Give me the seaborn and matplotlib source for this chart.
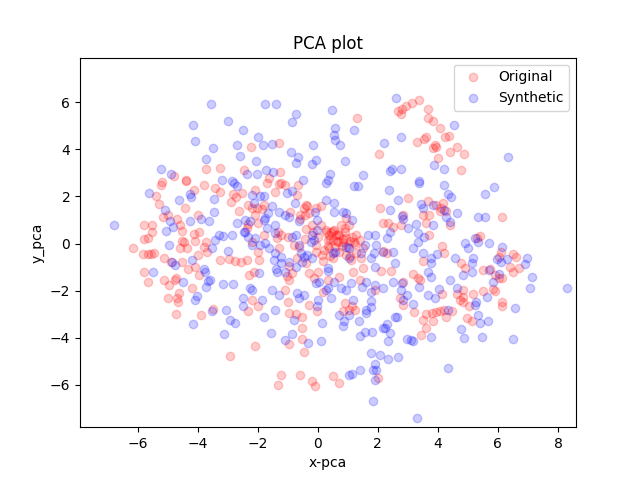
"""
PCA scatter of original vs synthetic samples.
"""

import matplotlib

matplotlib.use("Agg")
import matplotlib.pyplot as plt
import pandas as pd
import seaborn as sns

# (x_pca, y_pca)
original_xy = [
    (-3.74, 3.17), (-3.26, 3.20), (-4.80, 2.86), (-4.40, 2.69), (-5.20, 2.60), (-2.47, 3.11),
    (-2.24, 4.12), (-1.30, 4.26), (-1.25, 3.03), (-1.64, 2.77), (1.30, 5.32), (2.05, 3.81),
    (2.68, 5.64), (2.79, 5.73), (2.76, 5.52), (2.94, 5.84), (3.13, 5.97), (-1.24, 2.59),
    (3.38, 6.09), (3.66, 5.73), (3.68, 5.33), (3.85, 5.19), (4.07, 4.93), (4.24, 4.51),
    (4.36, 4.55), (3.59, 4.51), (3.53, 4.44), (3.29, 4.31), (3.89, 4.17), (3.83, 4.05),
    (3.94, 4.12), (4.64, 4.11), (4.41, 3.90), (4.86, 3.81), (4.02, 3.65), (4.76, 3.11),
    # left middle
    (-5.23, 2.50), (-4.38, 2.64), (-4.13, 2.29), (-3.78, 2.47), (-3.42, 2.36), (-3.25, 2.19),
    (-2.83, 2.10), (-2.90, 1.76), (-2.73, 1.98), (-5.38, 2.01), (-5.28, 1.68), (-4.41, 1.51),
    (-5.17, 1.15), (-5.00, 1.22), (-3.99, 1.22), (-2.62, 1.39), (-5.80, 0.80), (-5.53, 0.77),
    (-5.51, 0.51), (-5.65, 0.23), (-5.80, 0.20), (-6.15, -0.17), (-5.82, -0.44), (-5.67, -0.44),
    (-5.56, -0.43), (-5.45, -0.40), (-5.13, -0.63), (-4.89, -0.77), (-4.69, 1.06), (-4.53, 0.54),
    (-4.58, 0.80), (-4.13, 0.41), (-3.97, 0.51), (-4.10, 0.09), (-4.53, 0.09), (-4.44, 0.06),
    (-4.58, -0.20), (-4.36, -0.20), (-3.74, 0.06), (-3.80, -0.13), (-4.00, -0.49), (-3.69, -0.34),
    (-3.27, -0.70), (-2.96, -0.67), (-2.76, -0.74), (-2.55, -0.77), (-4.53, -0.77), (-4.33, -1.08),
    (-4.10, -0.98), (-3.97, -1.34), (-5.79, -1.22), (-5.64, -1.62), (-5.12, -1.55), (-4.97, -1.76),
    (-4.75, -1.55), (-4.71, -1.48), (-4.19, -1.90), (-4.62, -2.08), (-5.00, -2.33), (-4.69, -2.33),
    (-4.66, -2.50), (-2.53, 2.15),
    # centre
    (-2.08, 2.29), (-1.68, 2.59), (-1.29, 2.53), (-1.10, 2.50), (-0.65, 2.47), (-1.41, 2.19),
    (-2.33, 1.62), (-2.20, 1.53), (-2.03, 1.51), (-1.86, 1.48), (-1.80, 1.65), (-2.08, 1.22),
    (-2.31, 0.82), (-1.99, 0.87), (-2.35, 0.65), (-1.79, 0.37), (-2.20, 0.08), (-1.99, -0.34),
    (-1.97, -0.70), (-2.36, -0.70), (-2.14, -1.20), (-2.29, -1.34), (-1.32, 0.51), (-1.21, 0.37),
    (-1.36, 0.23), (-1.30, -0.20), (-0.99, 0.30), (-0.80, -0.06), (-0.63, -0.13), (-0.68, -0.63),
    (-0.96, -0.94), (-0.85, -1.27), (-1.02, -1.37), (-0.96, -1.55), (-1.08, -1.98), (-0.99, -2.47),
    (-0.46, 1.51), (-0.35, 1.58), (-0.29, 1.29), (-0.07, 1.51), (0.10, 1.58), (-0.60, 1.22),
    (-0.43, 1.22), (-0.18, 0.80), (0.10, 0.80), (0.02, 0.30), (-0.07, -0.06), (0.27, 0.58),
    (0.44, 0.51), (0.55, 0.58), (0.38, 0.37), (0.61, 0.37), (0.72, 0.37), (0.33, 0.16),
    (0.49, 0.16), (0.66, 0.08), (0.83, 0.08), (0.94, 0.23), (1.14, 0.30), (1.28, 0.37),
    (1.39, 0.16), (1.22, 0.08), (0.77, 0.80), (0.94, 1.08), (0.89, 0.65), (1.05, 0.80),
    (0.21, -0.27), (0.38, -0.20), (0.13, -0.49), (0.18, -0.74), (0.49, -0.60), (0.72, -0.34),
    (0.94, -0.49), (1.11, -0.70), (1.28, -0.41), (1.45, -0.63), (1.50, -0.20), (-0.40, -0.84),
    (-0.29, -1.27), (-0.12, -1.48), (0.01, -1.20), (0.33, -1.55), (0.72, -1.41), (1.17, -1.20),
    (1.39, -1.55), (1.50, -1.05), (1.89, -1.98), (0.92, -2.54), (0.16, -2.05), (2.06, 1.51),
    (2.17, 0.87), (2.34, 0.87), (2.51, 0.72), (2.76, 0.80), (2.85, 1.22), (2.12, -1.17),
    (2.45, -1.17), (3.01, 1.93), (2.85, -1.62), (2.17, -0.31), (2.29, -0.41), (2.73, -2.33),
    (-2.20, -2.40), (-0.68, 2.08), (-0.40, 1.65),
    # dense red core near the origin
    (0.29, 0.48), (0.52, 0.55), (0.68, 0.41), (0.91, 0.48), (0.40, 0.20), (0.63, 0.13),
    (0.85, 0.20), (1.08, 0.13), (0.35, -0.09), (0.57, -0.16), (0.80, -0.09), (1.02, -0.16),
    (1.24, -0.01), (-0.94, 1.33), (-0.60, 1.05), (-0.38, 0.62), (-0.16, 0.48), (-0.44, 0.20),
    (-0.05, -0.37), (0.40, -0.51), (1.08, -0.51),
    # right middle
    (3.66, 1.79), (3.94, 1.62), (4.11, 1.53), (4.17, 1.72), (4.06, 1.39), (4.28, 1.39),
    (3.50, 1.22), (3.70, 1.22), (3.61, 0.87), (4.39, 0.77), (3.72, 0.37), (6.13, 1.15),
    (5.40, 0.34), (5.29, 0.23), (4.15, -0.09), (4.19, -0.41), (3.50, -0.74), (4.78, -0.84),
    (4.90, -1.03), (5.51, -1.13), (5.74, -1.08), (6.10, -0.34), (6.02, -0.56), (6.50, -0.46),
    (6.61, -0.56), (6.41, -0.98), (6.50, -1.20), (6.69, -1.03), (5.91, -1.34), (6.02, -1.48),
    (6.13, -1.48), (5.85, -1.91), (5.91, -2.02), (5.51, -2.02), (5.18, -2.16), (4.82, -1.98),
    (4.84, -2.26), (4.62, -2.16), (4.73, -2.40), (4.82, -2.47), (4.15, -2.16), (3.16, -1.31),
    (3.33, -1.48), (3.41, -1.55), (6.13, -2.50),
    # bottom
    (-4.72, -2.99), (-3.88, -3.03), (-3.48, -2.80), (-2.92, -4.77),
    (-1.99, -2.67), (-2.33, -2.86), (-0.96, -2.96), (-0.74, -3.00), (-0.52, -3.10), (-0.29, -2.60),
    (-0.01, -2.88), (-0.52, -3.60), (-0.52, -4.06), (-0.96, -4.26), (-0.46, -4.59), (-2.08, -4.33),
    (-1.24, -5.59), (-1.33, -6.01), (-0.59, -5.59), (-0.18, -5.83), (-0.09, -6.04), (0.52, -5.61),
    (0.72, -5.94), (0.83, -2.88), (1.05, -2.81), (1.25, -2.81), (2.01, -5.70), (2.85, -2.60),
    (1.14, -2.67),
    (3.22, -2.91), (3.50, -3.24), (3.61, -3.00), (3.81, -2.96), (3.94, -2.91), (4.08, -2.86),
    (4.22, -2.81), (4.48, -2.86), (4.28, -3.10), (3.85, -3.31), (3.61, -3.60), (3.44, -3.88),
    (4.98, -3.17), (5.12, -3.28), (5.04, -2.67), (6.13, -2.67),
]

synthetic_xy = [
    (-3.57, 5.94), (-4.16, 5.03), (-3.00, 5.19), (-2.49, 4.83), (-4.08, 4.36), (-3.50, 4.06),
    (-2.69, 4.18), (-2.60, 3.74), (-3.73, 3.58), (-5.21, 3.18), (-4.88, 2.94), (-3.20, 2.70),
    (-2.85, 2.66),
    (-1.76, 5.91), (-1.40, 5.91), (-0.72, 5.52), (-0.87, 5.16), (0.47, 5.67), (0.58, 4.89),
    (0.54, 4.62), (0.57, 4.39), (0.75, 4.17), (1.19, 4.81), (-1.99, 4.54), (-1.83, 4.19),
    (-1.52, 4.22), (-0.88, 3.87), (-0.66, 3.67), (-0.74, 3.44), (-0.16, 4.17), (-0.06, 3.55),
    (-0.18, 3.37), (0.92, 3.50), (-2.06, 3.51), (-1.74, 3.11), (-2.02, 2.97), (-2.35, 2.97),
    (-1.50, 3.03), (-0.49, 2.69), (0.40, 2.97), (0.34, 2.69), (1.50, 2.90), (2.19, 4.29),
    (2.60, 6.17), (2.78, 4.51), (2.47, 3.16), (2.76, 3.18), (2.42, 3.08),
    (4.54, 5.05), (6.34, 3.68), (3.88, 3.34), (4.22, 3.17), (3.38, 2.66),
    # left middle
    (-6.78, 0.81), (-5.61, 2.16), (-4.62, 1.86), (-4.24, 2.12), (-4.21, 1.98), (-3.45, 1.90),
    (-2.69, 2.43), (-2.80, 2.57), (-5.09, 1.44), (-4.93, 0.98), (-5.04, 0.55), (-4.96, -0.06),
    (-4.24, 0.94), (-3.90, 1.05), (-3.62, 0.98), (-3.47, 1.35), (-2.69, 0.88), (-3.29, 0.38),
    (-3.43, 0.17), (-3.16, 0.31), (-2.87, 0.37), (-2.47, 0.51), (-2.99, -0.33), (-3.54, -0.20),
    (-4.19, -0.71), (-3.79, -1.08), (-3.76, -1.19), (-4.77, -0.91), (-4.86, -0.77), (-5.49, -1.22),
    (-4.49, -1.65), (-3.65, -1.59), (-3.59, -1.56), (-3.74, -1.85), (-3.15, -1.71), (-2.83, -1.71),
    (-4.03, -2.22), (-4.10, -2.39), (-2.49, -2.33), (-4.81, 0.72),
    # centre
    (-2.20, 2.08), (-1.92, 2.00), (-1.79, 2.00), (-2.11, 1.72), (-1.66, 1.29), (-1.52, 1.58),
    (-1.30, 1.36), (-1.10, 1.22), (-1.02, 2.15), (-0.85, 2.22), (-0.76, 1.72), (-0.96, 1.15),
    (-2.42, 1.01), (-2.25, 0.94), (-1.80, 1.01), (-1.75, 1.08), (-1.69, 0.65), (-1.41, 0.80),
    (-1.43, 0.44), (-0.85, 0.30), (-0.74, 0.37), (-0.63, 0.94), (-0.04, 1.01), (-0.09, 1.36),
    (0.27, 1.86), (0.55, 1.72), (0.55, 1.36), (0.83, 1.36), (0.94, 1.29), (1.14, 1.01),
    (1.33, 2.43), (1.22, 2.43), (0.27, 2.57), (2.38, 2.29), (2.68, 1.86), (2.42, 1.44),
    (2.79, 1.19), (2.85, 1.05), (3.01, 0.65), (2.40, 0.48), (2.29, 0.23), (2.17, -0.37),
    (2.51, -0.37), (2.57, -0.84), (1.95, -0.06), (1.86, -0.41), (1.78, -0.63), (1.89, -0.98),
    (1.89, 0.37), (1.67, 0.37), (1.56, -0.06), (-2.42, 0.51), (-2.31, 0.30), (-2.08, 0.23),
    (-2.20, -0.06), (-1.92, -0.06), (-1.75, 0.01), (-1.64, -0.20), (-1.41, -0.41), (-1.24, -0.56),
    (-1.47, -0.70), (-1.21, -0.84), (-0.96, -0.77), (-1.39, -1.08), (-1.36, -1.20), (-1.08, -1.20),
    (-0.74, -0.98), (-0.52, -0.77), (-0.46, -0.56), (-0.35, -0.49), (-0.18, -0.63), (-0.57, -0.41),
    (-0.24, 0.08), (-0.12, 0.16), (-0.18, 0.37), (-0.01, 0.58), (-0.63, -0.06), (0.33, -1.05),
    (0.33, -1.17), (0.52, -0.41), (0.58, -0.34), (0.94, -0.13), (1.05, -0.20), (1.05, -0.63),
    (1.45, -0.41), (-1.97, -1.27), (-2.25, -1.90), (-2.20, -1.98), (-1.52, -1.98), (-1.30, -2.19),
    (-0.68, -2.12), (-0.46, -2.19), (-0.63, -2.33), (-0.07, -1.69), (0.04, -1.62), (0.27, -1.98),
    (0.33, -1.90), (0.55, -1.62), (0.77, -1.90), (0.94, -1.98), (1.11, -1.69), (1.48, -1.83),
    (1.62, -1.62), (1.89, -1.76), (2.17, -1.88), (2.51, -1.62), (2.79, -1.69), (2.76, -1.98),
    (2.96, -2.19), (1.78, -2.05), (0.02, -2.40), (0.44, -2.33), (1.17, -2.40), (1.78, -2.44),
    (2.85, -2.40), (-1.86, -2.40),
    # right middle
    (3.38, 2.57), (4.21, 2.47), (4.34, 2.10), (4.45, 1.96), (5.87, 2.40), (5.57, 2.12),
    (3.44, 1.68), (3.52, 1.53), (3.83, 1.62), (4.19, 1.44), (4.28, 1.11), (4.39, 0.91),
    (4.62, 1.29), (3.85, 0.79), (3.27, 0.82), (3.33, 0.44), (3.55, 0.30), (3.33, 0.08),
    (3.16, -0.20), (3.50, -0.41), (3.78, -0.63), (3.78, -0.84), (3.66, -1.20), (3.78, -1.41),
    (3.97, -0.46), (4.56, -0.60), (4.90, 0.01), (5.01, -0.20), (5.34, 1.11), (5.57, 1.14),
    (5.23, 0.23), (5.34, 0.08), (5.71, 0.04), (6.13, -0.13), (5.18, -0.63), (5.12, -0.84),
    (5.15, -1.20), (4.84, -1.34), (5.71, -1.13), (5.96, -0.66), (6.10, -0.77), (6.30, -0.66),
    (6.97, -0.60), (6.91, -0.85), (7.14, -1.41), (7.08, -1.88), (6.02, -1.31), (5.85, -1.62),
    (4.41, -1.55), (4.62, -1.88), (4.03, -1.93), (3.38, -1.83), (3.66, -2.19), (3.89, -2.33),
    (5.62, -2.26), (5.27, -2.47), (8.30, -1.88), (3.16, -2.55),
    # bottom
    (-4.15, -3.42), (-3.54, -2.86), (-3.07, -2.81), (-2.94, -3.24), (-2.77, -3.38), (-3.11, -3.84),
    (-2.49, -2.67),
    (-1.41, -2.81), (-1.80, -3.13), (-0.80, -3.24), (-0.04, -2.67), (0.13, -3.38), (-1.57, -3.81),
    (-0.85, -3.85), (-1.10, -4.09), (-0.31, -4.21), (0.10, -4.14), (0.69, -3.03), (0.88, -3.28),
    (0.85, -3.48), (1.05, -3.03), (1.37, -3.31), (1.59, -2.96), (1.59, -2.81), (1.78, -2.71),
    (1.39, -3.91), (1.56, -3.74), (1.82, -3.74), (2.23, -3.60), (2.29, -3.42), (2.57, -3.14),
    (2.64, -3.14), (2.17, -3.57), (2.40, -3.81), (2.34, -4.14), (2.96, -4.05), (3.09, -4.09),
    (1.78, -4.66), (2.06, -4.73), (2.34, -4.92), (2.68, -4.83), (1.89, -5.13), (1.84, -5.37),
    (1.95, -5.37), (1.89, -5.80), (1.05, -5.59), (1.14, -5.56), (1.39, -5.37), (1.84, -6.69),
    (4.34, -2.81), (5.34, -3.03), (5.40, -3.38), (5.68, -3.28), (4.78, -3.62), (4.86, -4.02),
    (5.48, -3.95), (6.49, -4.06), (3.78, -3.95), (3.16, -4.14), (6.58, -2.74), (4.33, -5.29),
    (3.32, -7.39), (5.23, -2.60),
]

x_limits = (-7.92, 8.6)
y_limits = (-7.8, 7.9)


def build_frame() -> pd.DataFrame:
    orig = pd.DataFrame(original_xy, columns=["x", "y"])
    orig["kind"] = "Original"
    synth = pd.DataFrame(synthetic_xy, columns=["x", "y"])
    synth["kind"] = "Synthetic"
    return pd.concat([orig, synth], ignore_index=True)


def main() -> None:
    df = build_frame()
    fig, ax = plt.subplots(figsize=(6.4, 4.8), dpi=100)

    for kind, color in [("Original", "red"), ("Synthetic", "blue")]:
        part = df[df["kind"] == kind]
        sns.scatterplot(
            data=part, x="x", y="y", ax=ax, color=color, alpha=0.2,
            s=36, edgecolor=color, linewidth=1.0, label=kind,
        )

    ax.set_xlim(*x_limits)
    ax.set_ylim(*y_limits)
    ax.legend(loc="upper right")
    ax.set_title("PCA plot")
    ax.set_xlabel("x-pca")
    ax.set_ylabel("y_pca")

    fig.savefig("out.png")
    plt.close(fig)


if __name__ == "__main__":
    main()
